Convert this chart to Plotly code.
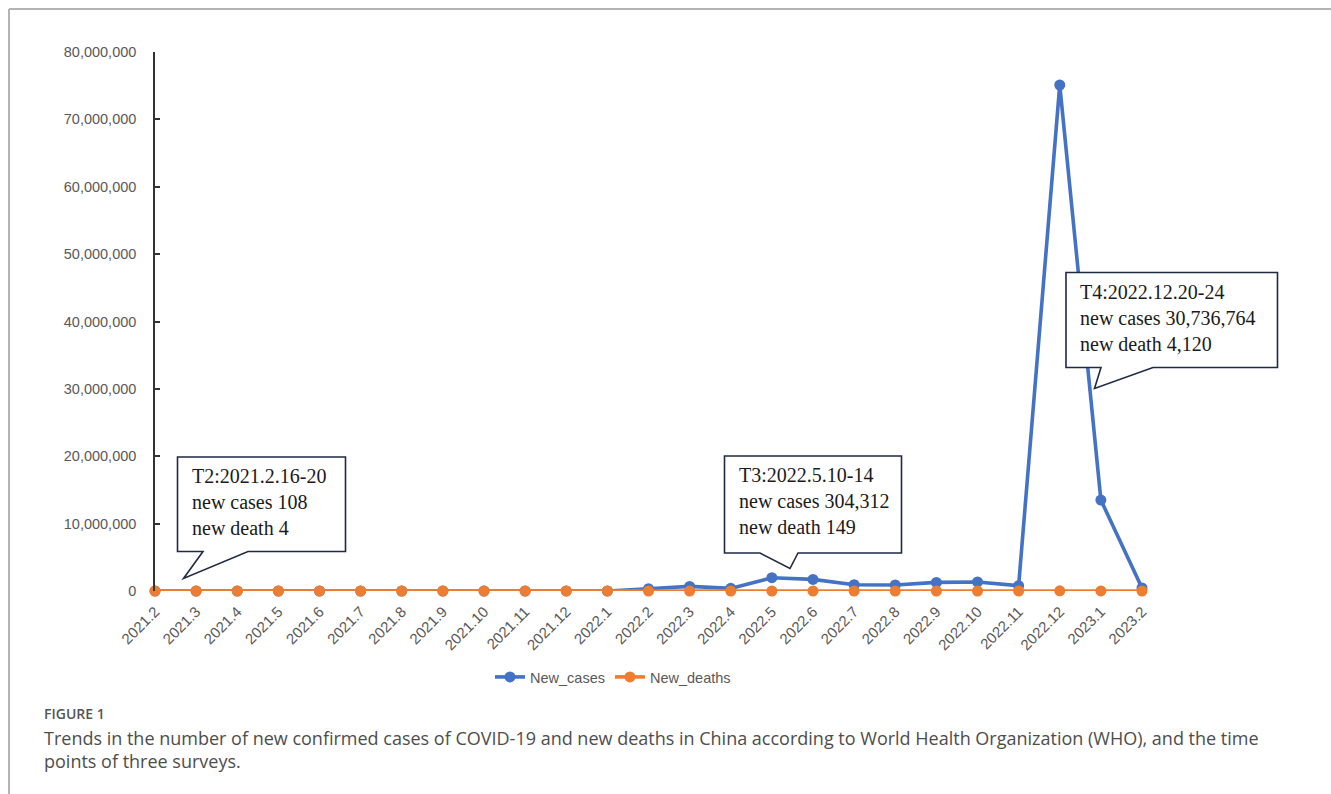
import plotly.graph_objects as go

months = ["2021.2", "2021.3", "2021.4", "2021.5", "2021.6", "2021.7", "2021.8", "2021.9",
          "2021.10", "2021.11", "2021.12", "2022.1", "2022.2", "2022.3", "2022.4", "2022.5",
          "2022.6", "2022.7", "2022.8", "2022.9", "2022.10", "2022.11", "2022.12", "2023.1", "2023.2"]
new_cases = [1012, 423, 497, 529, 1064, 1597, 2011, 1376, 1265, 1888, 3219, 4537,
             340000, 680000, 390000, 1970000, 1720000, 930000, 890000, 1280000, 1340000,
             790000, 75100000, 13500000, 450000]
new_deaths = [4, 1, 0, 0, 0, 0, 0, 0, 0, 0, 0, 2,
              50, 600, 700, 149, 300, 100, 80, 90, 120, 200, 25000, 9000, 1000]

callouts = [
    "T2:2021.2.16-20<br>new cases 108<br>new death 4",
    "T3:2022.5.10-14<br>new cases 304,312<br>new death 149",
    "T4:2022.12.20-24<br>new cases 30,736,764<br>new death 4,120",
]

W, H = 1331, 794
L, R, T, B = 155, 1142, 52, 591  # plot area pixels


def px(x):
    return (x - L) / (R - L)


def py(y):
    return (B - y) / (B - T)


fig = go.Figure()
fig.add_trace(go.Scatter(x=months, y=new_cases, name="New_cases", mode="lines+markers",
                         line=dict(color="#4472C4", width=3.6),
                         marker=dict(size=11, color="#4472C4"), cliponaxis=False))
fig.add_trace(go.Scatter(x=months, y=new_deaths, name="New_deaths", mode="lines+markers",
                         line=dict(color="#ED7D31", width=3.6),
                         marker=dict(size=11, color="#ED7D31"), cliponaxis=False))

shapes = []
# page borders
shapes.append(dict(type="line", xref="paper", yref="paper", x0=px(9), x1=px(1331), y0=py(9), y1=py(9),
                   line=dict(color="#b3b3b3", width=2)))
shapes.append(dict(type="line", xref="paper", yref="paper", x0=px(9), x1=px(9), y0=py(9), y1=py(794),
                   line=dict(color="#b3b3b3", width=2)))

boxes = [
    # left, right, top, bottom, tailL, tailR, tipx, tipy
    (177.5, 345.5, 457, 551.5, 203, 248, 183.5, 578.5),
    (724.5, 901.5, 456, 553, 760, 798, 790, 568.5),
    (1066, 1277.5, 272.5, 367.5, 1101, 1153, 1094.5, 388.5),
]
for (l, r, t, b, tl, tr, tx, ty) in boxes:
    pts = [(l, t), (r, t), (r, b), (tr, b), (tx, ty), (tl, b), (l, b)]
    path = "M " + " L ".join(f"{px(a):.5f},{py(c):.5f}" for a, c in pts) + " Z"
    shapes.append(dict(type="path", xref="paper", yref="paper", path=path,
                       fillcolor="white", line=dict(color="#1f2a44", width=1.6), layer="above"))

annotations = []
for (l, r, t, b, *_), txt in zip(boxes, callouts):
    annotations.append(dict(xref="paper", yref="paper", x=px(l + 12), y=py(t + 6),
                            xanchor="left", yanchor="top", align="left", showarrow=False,
                            text=txt, font=dict(family="Liberation Serif", size=20, color="#1a1a1a")))

annotations.append(dict(xref="paper", yref="paper", x=px(42), y=py(713), xanchor="left", yanchor="middle",
                        showarrow=False, text="FIGURE 1",
                        font=dict(family="Open Sans", size=14, color="#555555", weight=600)))
annotations.append(dict(xref="paper", yref="paper", x=px(42), y=py(724), xanchor="left", yanchor="top",
                        showarrow=False, align="left",
                        text="Trends in the number of new confirmed cases of COVID-19 and new deaths in China according to World Health Organization (WHO), and the time<br>points of three surveys.",
                        font=dict(family="Open Sans", size=18, color="#4d4d4d")))

fig.update_layout(
    width=W, height=H,
    margin=dict(l=L, r=W - R, t=T, b=H - B, pad=0),
    paper_bgcolor="white", plot_bgcolor="white",
    showlegend=True,
    legend=dict(orientation="h", xref="paper", yref="paper", x=px(613), y=py(677),
                xanchor="center", yanchor="middle",
                font=dict(family="Liberation Sans", size=14.5, color="#595959"),
                itemwidth=30, tracegroupgap=0),
    shapes=shapes, annotations=annotations,
    font=dict(family="Liberation Sans", color="#595959"),
)
fig.update_xaxes(type="category", range=[0, 24], showgrid=False, showline=False, zeroline=False,
                 ticks="", tickangle=-45, ticklabelstandoff=8,
                 tickfont=dict(family="Liberation Sans", size=15, color="#595959"))
fig.update_yaxes(range=[0, 80000000], dtick=10000000, tickformat=",", showgrid=False, zeroline=False,
                 showline=True, linecolor="#333333", linewidth=1.5,
                 ticks="inside", ticklen=5, tickcolor="#333333", tickwidth=1.5,
                 ticklabelstandoff=14,
                 tickfont=dict(family="Liberation Sans", size=14.5, color="#595959"))

fig.write_html("out.html")
